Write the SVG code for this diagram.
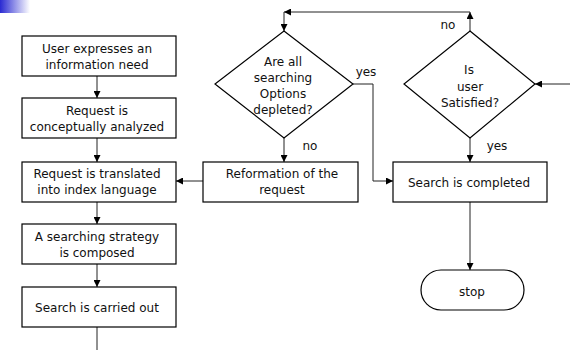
<svg xmlns="http://www.w3.org/2000/svg" width="570" height="350" viewBox="0 0 570 350">
<defs>
<linearGradient id="corner" x1="0" y1="0" x2="1" y2="0">
<stop offset="0" stop-color="#2a2ad2"/>
<stop offset="1" stop-color="#ffffff"/>
</linearGradient>
<marker id="arr" viewBox="0 0 8 8" refX="8" refY="4" markerWidth="7" markerHeight="7" markerUnits="userSpaceOnUse" orient="auto">
<path d="M0,0 L8,4 L0,8 Z" fill="#000"/>
</marker>
</defs>
<style>
.box{fill:#fff;stroke:#000;stroke-width:1.2}
.t{font-family:"DejaVu Sans",Verdana,sans-serif;font-size:12px;fill:#111;text-anchor:middle}
.c{fill:none;stroke:#222;stroke-width:1}
</style>
<rect x="0" y="0" width="30" height="13" fill="url(#corner)"/>

<g id="connectors">
<line class="c" x1="97" y1="76" x2="97" y2="98" marker-end="url(#arr)"/>
<line class="c" x1="97" y1="138" x2="97" y2="162" marker-end="url(#arr)"/>
<line class="c" x1="97" y1="202" x2="97" y2="224" marker-end="url(#arr)"/>
<line class="c" x1="97" y1="264" x2="97" y2="287" marker-end="url(#arr)"/>
<line class="c" x1="97" y1="327" x2="97" y2="350"/>
<line class="c" x1="203" y1="181" x2="176" y2="181" marker-end="url(#arr)"/>
<line class="c" x1="284" y1="138" x2="284" y2="162" marker-end="url(#arr)"/>
<polyline class="c" points="353,84 373,84 373,181 393,181" marker-end="url(#arr)"/>
<line class="c" x1="470" y1="138" x2="470" y2="162" marker-end="url(#arr)"/>
<line class="c" x1="470" y1="202" x2="470" y2="270" marker-end="url(#arr)"/>
<line class="c" x1="570" y1="84" x2="535" y2="84" marker-end="url(#arr)"/>
<line class="c" x1="470" y1="31" x2="470" y2="12" marker-end="url(#arr)"/>
<line class="c" x1="470" y1="12" x2="284" y2="12" marker-end="url(#arr)"/>
<line class="c" x1="284" y1="12" x2="284" y2="31" marker-end="url(#arr)"/>
<text class="t" x="366" y="76">yes</text>
<text class="t" x="310" y="150">no</text>
<text class="t" x="448" y="29">no</text>
<text class="t" x="497" y="150">yes</text>
</g>

<g id="n1">
<rect class="box" x="22" y="36" width="154" height="40"/>
<text class="t" x="97" y="53">User expresses an</text>
<text class="t" x="97" y="69">information need</text>
</g>
<g id="n2">
<rect class="box" x="22" y="98" width="154" height="40"/>
<text class="t" x="97" y="115">Request is</text>
<text class="t" x="97" y="131">conceptually analyzed</text>
</g>
<g id="n3">
<rect class="box" x="22" y="162" width="154" height="40"/>
<text class="t" x="97" y="177.5">Request is translated</text>
<text class="t" x="97" y="193.5">into index language</text>
</g>
<g id="n4">
<rect class="box" x="22" y="224" width="154" height="40"/>
<text class="t" x="97" y="240.5">A searching strategy</text>
<text class="t" x="97" y="256.5">is composed</text>
</g>
<g id="n5">
<rect class="box" x="22" y="287" width="154" height="40"/>
<text class="t" x="97" y="312">Search is carried out</text>
</g>
<g id="d1">
<polygon class="box" points="284,31 353,84 284,138 215,84"/>
<text class="t" x="283" y="65.5">Are all</text>
<text class="t" x="283" y="81.5">searching</text>
<text class="t" x="283" y="97.5">Options</text>
<text class="t" x="283" y="113.5">depleted?</text>
</g>
<g id="n6">
<rect class="box" x="203" y="162" width="155" height="40"/>
<text class="t" x="282" y="178">Reformation of the</text>
<text class="t" x="282" y="194">request</text>
</g>
<g id="d2">
<polygon class="box" points="470,31 535,84 470,138 404,84"/>
<text class="t" x="469" y="74">Is</text>
<text class="t" x="470" y="90.5">user</text>
<text class="t" x="470" y="107">Satisfied?</text>
</g>
<g id="n7">
<rect class="box" x="393" y="162" width="154" height="40"/>
<text class="t" x="469" y="186.5">Search is completed</text>
</g>
<g id="stop">
<rect class="box" x="421" y="270" width="103" height="40" rx="20" ry="20"/>
<text class="t" x="472" y="296">stop</text>
</g>
</svg>
